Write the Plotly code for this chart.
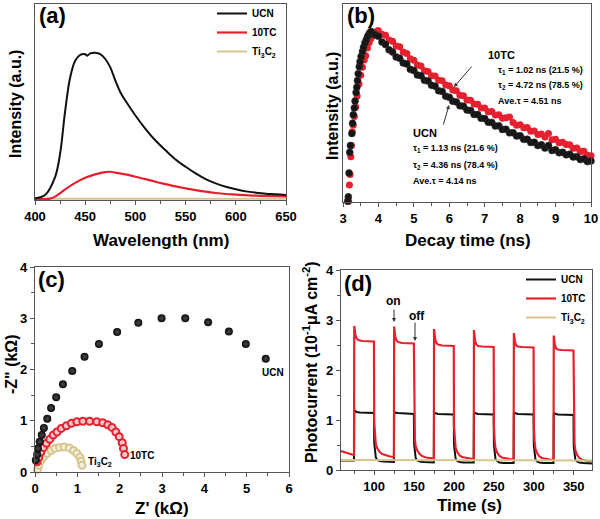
import plotly.graph_objects as go

# ---------------- DATA ----------------
# (a) steady-state PL spectra
wl_ucn = [400, 410, 420, 425, 430, 435, 440, 445, 450, 452, 455, 460, 465, 470, 475, 480, 485, 490,
          500, 510, 520, 530, 540, 550, 560, 570, 580, 590, 600, 610, 620, 630, 640, 650]
pl_ucn = [0.005, 0.027, 0.15, 0.31, 0.60, 0.83, 0.945, 0.986, 0.99, 0.98, 0.995, 1.0, 0.99, 0.957, 0.90,
          0.81, 0.73, 0.673, 0.571, 0.48, 0.40, 0.333, 0.27, 0.22, 0.175, 0.136, 0.107, 0.084, 0.066,
          0.052, 0.043, 0.036, 0.032, 0.027]
wl_10tc = [400, 410, 415, 420, 425, 430, 440, 450, 460, 470, 475, 480, 490, 500, 510, 520, 530, 540,
           550, 560, 570, 580, 590, 600, 620, 650]
pl_10tc = [0.0, 0.0, 0.002, 0.016, 0.04, 0.066, 0.11, 0.145, 0.168, 0.184, 0.186, 0.18, 0.168, 0.152,
           0.136, 0.118, 0.102, 0.086, 0.073, 0.061, 0.05, 0.041, 0.034, 0.03, 0.023, 0.018]
wl_ti = [400, 500, 650]
pl_ti = [0.002, 0.002, 0.002]

# (b) TRPL decay
t_ucn = [3.13, 3.15, 3.17, 3.19, 3.21, 3.25, 3.27, 3.29, 3.32, 3.34, 3.37, 3.39, 3.41, 3.43, 3.46, 3.48,
         3.51, 3.55, 3.58, 3.62, 3.66, 3.70, 3.74, 3.78,
         3.8, 3.9, 4.0, 4.1, 4.2, 4.3, 4.4, 4.5, 4.6, 4.7, 4.8, 4.9, 5.0, 5.1, 5.2, 5.3, 5.4, 5.5, 5.6,
         5.7, 5.8, 5.9, 6.0, 6.1, 6.2, 6.3, 6.4, 6.5, 6.6, 6.7, 6.8, 6.9, 7.0, 7.1, 7.2, 7.3, 7.4, 7.5,
         7.6, 7.7, 7.8, 7.9, 8.0, 8.1, 8.2, 8.3, 8.4, 8.5, 8.6, 8.7, 8.8, 8.9, 9.0, 9.1, 9.2, 9.3, 9.4,
         9.5, 9.6, 9.7, 9.8, 9.9, 10.0]
i_ucn = [0.005, 0.03, 0.17, 0.29, 0.33, 0.40, 0.46, 0.51, 0.55, 0.59, 0.64, 0.67, 0.71, 0.75, 0.79, 0.82,
         0.85, 0.88, 0.905, 0.93, 0.95, 0.97, 0.985, 0.995,
         0.995, 0.978, 0.968, 0.935, 0.92, 0.889, 0.876, 0.848, 0.84, 0.812, 0.806, 0.775, 0.768, 0.742,
         0.738, 0.711, 0.707, 0.682, 0.677, 0.65, 0.646, 0.618, 0.612, 0.589, 0.585, 0.562, 0.56, 0.537,
         0.535, 0.512, 0.511, 0.489, 0.488, 0.466, 0.465, 0.444, 0.445, 0.424, 0.425, 0.404, 0.405, 0.386,
         0.387, 0.366, 0.367, 0.348, 0.349, 0.33, 0.334, 0.315, 0.33, 0.301, 0.305, 0.288, 0.291, 0.276,
         0.279, 0.263, 0.265, 0.248, 0.252, 0.236, 0.24]
t_10tc = [3.16, 3.18, 3.2, 3.22, 3.24, 3.26, 3.29, 3.32, 3.36, 3.4, 3.45, 3.5, 3.55, 3.6, 3.64, 3.69, 3.74,
          3.79, 3.84, 3.89, 3.94, 3.98,
          4.0, 4.1, 4.2, 4.3, 4.4, 4.5, 4.6, 4.7, 4.8, 4.9, 5.0, 5.1, 5.2, 5.3, 5.4, 5.5, 5.6, 5.7, 5.8,
          5.9, 6.0, 6.1, 6.2, 6.3, 6.4, 6.5, 6.6, 6.7, 6.8, 6.9, 7.0, 7.1, 7.2, 7.3, 7.4, 7.5, 7.6, 7.7,
          7.8, 7.9, 8.0, 8.1, 8.2, 8.3, 8.4, 8.5, 8.6, 8.7, 8.8, 8.9, 9.0, 9.1, 9.2, 9.3, 9.4, 9.5, 9.6,
          9.7, 9.8, 9.9, 10.0]
i_10tc = [0.005, 0.1, 0.16, 0.265, 0.33, 0.41, 0.45, 0.5, 0.555, 0.62, 0.69, 0.74, 0.787, 0.83, 0.855,
          0.9, 0.932, 0.955, 0.971, 0.985, 0.993, 1.0,
          1.0, 0.98, 0.975, 0.947, 0.94, 0.912, 0.907, 0.877, 0.868, 0.837, 0.828, 0.8, 0.794, 0.767,
          0.763, 0.738, 0.736, 0.712, 0.709, 0.684, 0.68, 0.654, 0.65, 0.624, 0.621, 0.596, 0.595, 0.572,
          0.571, 0.549, 0.549, 0.528, 0.529, 0.509, 0.51, 0.49, 0.492, 0.497, 0.465, 0.449, 0.452, 0.434,
          0.436, 0.414, 0.415, 0.394, 0.397, 0.38, 0.40, 0.364, 0.366, 0.346, 0.349, 0.336, 0.334, 0.314,
          0.316, 0.295, 0.297, 0.273, 0.27]

# (c) Nyquist plots (kOhm)
zr_ucn = [0.02, 0.05, 0.07, 0.11, 0.16, 0.21, 0.29, 0.38, 0.50, 0.66, 0.88, 1.17, 1.51, 1.94, 2.44,
          2.99, 3.55, 4.09, 4.58, 4.98, 5.45]
zi_ucn = [0.23, 0.34, 0.46, 0.59, 0.72, 0.86, 1.04, 1.25, 1.46, 1.71, 1.97, 2.25, 2.50, 2.73, 2.91,
          3.00, 3.00, 2.92, 2.74, 2.50, 2.21]
zr_10tc = [0.05, 0.09, 0.14, 0.20, 0.27, 0.35, 0.43, 0.52, 0.62, 0.74, 0.86, 0.99, 1.13, 1.29, 1.46,
           1.60, 1.72, 1.82, 1.91, 1.99, 2.06, 2.09, 2.12]
zi_10tc = [0.20, 0.29, 0.39, 0.48, 0.56, 0.64, 0.72, 0.78, 0.85, 0.90, 0.95, 0.98, 0.99, 0.99, 0.98,
           0.96, 0.92, 0.87, 0.78, 0.69, 0.57, 0.46, 0.34]
zr_ti = [0.06, 0.09, 0.14, 0.20, 0.28, 0.38, 0.47, 0.58, 0.69, 0.81, 0.91, 0.99, 1.06, 1.09, 1.11]
zi_ti = [0.05, 0.13, 0.22, 0.29, 0.36, 0.42, 0.46, 0.48, 0.49, 0.47, 0.42, 0.36, 0.29, 0.21, 0.13]

# (d) transient photocurrent
tp_10tc = [58, 62, 66, 70, 74.7,
           75, 75.5, 76.5, 78, 80, 85, 99.7, 100, 101, 102, 104, 107, 110, 115, 120, 124.7,
           125, 125.5, 126.5, 128, 130, 135, 149.7, 150, 151, 152, 154, 157, 160, 165, 170, 174.7,
           175, 175.5, 176.5, 178, 180, 185, 199.7, 200, 201, 202, 204, 207, 210, 215, 220, 224.7,
           225, 225.5, 226.5, 228, 230, 235, 249.7, 250, 251, 252, 254, 257, 260, 265, 270, 274.7,
           275, 275.5, 276.5, 278, 280, 285, 299.7, 300, 301, 302, 304, 307, 310, 315, 320, 324.7,
           325, 325.5, 326.5, 328, 330, 335, 349.7, 350, 351, 352, 354, 357, 360, 365, 373]
ip_10tc = [0.38, 0.36, 0.34, 0.32, 0.30,
           2.88, 2.80, 2.70, 2.63, 2.60, 2.58, 2.57, 0.95, 0.64, 0.52, 0.43, 0.36, 0.32, 0.29, 0.27, 0.26,
           2.87, 2.78, 2.66, 2.59, 2.56, 2.54, 2.53, 0.90, 0.60, 0.48, 0.39, 0.32, 0.28, 0.25, 0.24, 0.23,
           2.82, 2.73, 2.61, 2.54, 2.51, 2.49, 2.48, 0.88, 0.57, 0.45, 0.36, 0.29, 0.26, 0.24, 0.23, 0.22,
           2.80, 2.71, 2.58, 2.51, 2.48, 2.47, 2.46, 0.87, 0.56, 0.44, 0.35, 0.28, 0.25, 0.23, 0.22, 0.21,
           2.74, 2.66, 2.55, 2.49, 2.47, 2.46, 2.45, 0.86, 0.55, 0.43, 0.34, 0.27, 0.24, 0.22, 0.21, 0.20,
           2.69, 2.61, 2.49, 2.43, 2.41, 2.40, 2.39, 0.85, 0.52, 0.40, 0.31, 0.24, 0.21, 0.19, 0.17]
tp_ucn = [58, 74.7,
          75, 76, 78, 82, 90, 99.7, 100, 101, 102, 104, 107, 112, 124.7,
          125, 126, 130, 140, 149.7, 150, 151, 152, 154, 157, 162, 174.7,
          175, 176, 180, 190, 199.7, 200, 201, 202, 204, 207, 212, 224.7,
          225, 226, 230, 240, 249.7, 250, 251, 252, 254, 257, 262, 274.7,
          275, 276, 280, 290, 299.7, 300, 301, 302, 304, 307, 312, 324.7,
          325, 326, 330, 340, 349.7, 350, 351, 352, 354, 357, 362, 373]
ip_ucn = [0.19, 0.19,
          1.20, 1.18, 1.16, 1.15, 1.15, 1.14, 0.55, 0.33, 0.25, 0.20, 0.18, 0.17, 0.16,
          1.16, 1.15, 1.14, 1.13, 1.12, 0.52, 0.31, 0.24, 0.19, 0.17, 0.16, 0.15,
          1.15, 1.14, 1.12, 1.11, 1.11, 0.50, 0.30, 0.23, 0.18, 0.16, 0.15, 0.15,
          1.15, 1.14, 1.12, 1.11, 1.11, 0.50, 0.30, 0.22, 0.18, 0.15, 0.14, 0.14,
          1.15, 1.14, 1.12, 1.11, 1.11, 0.49, 0.29, 0.22, 0.17, 0.15, 0.14, 0.14,
          1.14, 1.13, 1.11, 1.11, 1.10, 0.48, 0.28, 0.21, 0.17, 0.15, 0.14, 0.13]
tp_ti = [58, 100, 150, 200, 250, 300, 373]
ip_ti = [0.20, 0.20, 0.20, 0.20, 0.20, 0.19, 0.19]

names = ["UCN", "10TC", "Ti<sub>3</sub>C<sub>2</sub>"]

# ---------------- STYLE ----------------
BLACK = "#111111"
RED = "#e6202e"
TAN = "#d6c68e"
FONT = "Liberation Sans"
W, H = 600, 519


def px(x):
    return x / W


def py(y):
    return 1 - y / H


fig = go.Figure()

# (a)
fig.add_trace(go.Scatter(x=wl_ti, y=pl_ti, mode="lines", line=dict(color=TAN, width=2), name=names[2],
                         xaxis="x", yaxis="y", legend="legend", legendrank=3))
fig.add_trace(go.Scatter(x=wl_10tc, y=pl_10tc, mode="lines", line=dict(color=RED, width=2.2, shape="spline"),
                         name=names[1], xaxis="x", yaxis="y", legend="legend", legendrank=2))
fig.add_trace(go.Scatter(x=wl_ucn, y=pl_ucn, mode="lines", line=dict(color=BLACK, width=2, shape="spline"),
                         name=names[0], xaxis="x", yaxis="y", legend="legend", legendrank=1))

# (b)
fig.add_trace(go.Scatter(x=t_10tc, y=i_10tc, mode="markers", marker=dict(color=RED, size=7),
                         showlegend=False, xaxis="x2", yaxis="y2", cliponaxis=False))
fig.add_trace(go.Scatter(x=t_ucn, y=i_ucn, mode="markers", marker=dict(color="#151515", size=7,
                         line=dict(color="#333", width=0.5)),
                         showlegend=False, xaxis="x2", yaxis="y2", cliponaxis=False))

# (c)
fig.add_trace(go.Scatter(x=zr_ti, y=zi_ti, mode="markers",
                         marker=dict(color="#f4eedb", size=7, line=dict(color=TAN, width=2)),
                         showlegend=False, xaxis="x3", yaxis="y3", cliponaxis=False))
fig.add_trace(go.Scatter(x=zr_10tc, y=zi_10tc, mode="markers",
                         marker=dict(color="#f8c8cc", size=7, line=dict(color=RED, width=2)),
                         showlegend=False, xaxis="x3", yaxis="y3", cliponaxis=False))
fig.add_trace(go.Scatter(x=zr_ucn, y=zi_ucn, mode="markers",
                         marker=dict(color="#0a0a0a", size=8, gradient=dict(type="radial", color="#4a4a4a")),
                         showlegend=False, xaxis="x3", yaxis="y3", cliponaxis=False))

# (d)
fig.add_trace(go.Scatter(x=tp_ucn, y=ip_ucn, mode="lines", line=dict(color=BLACK, width=2), name=names[0],
                         xaxis="x4", yaxis="y4", legend="legend2", legendrank=1))
fig.add_trace(go.Scatter(x=tp_10tc, y=ip_10tc, mode="lines", line=dict(color=RED, width=2.2), name=names[1],
                         xaxis="x4", yaxis="y4", legend="legend2", legendrank=2))
fig.add_trace(go.Scatter(x=tp_ti, y=ip_ti, mode="lines", line=dict(color=TAN, width=2), name=names[2],
                         xaxis="x4", yaxis="y4", legend="legend2", legendrank=3))

LC = "#555555"
tickfont = dict(family=FONT, size=13, color="black", weight="bold")


def ax(domain, rng, dtick=None, minor=None, labels=True, ticks=True, tick0=None):
    d = dict(domain=domain, range=rng, showline=True, linecolor=LC, linewidth=1.2, mirror=True,
             showgrid=False, zeroline=False, tickfont=tickfont, fixedrange=True, automargin=False)
    if ticks:
        d.update(ticks="outside", ticklen=4, tickwidth=1.2, tickcolor=LC, tickmode="linear", dtick=dtick)
        if tick0 is not None:
            d["tick0"] = tick0
        if minor:
            d["minor"] = dict(ticks="outside", ticklen=2.5, tickwidth=1, tickcolor=LC, dtick=minor,
                              tick0=tick0 if tick0 is not None else 0)
    else:
        d.update(ticks="", showticklabels=False)
    if not labels:
        d["showticklabels"] = False
    return d


fig.update_layout(
    width=W, height=H, margin=dict(l=0, r=0, t=0, b=0, pad=0, autoexpand=False),
    paper_bgcolor="white", plot_bgcolor="white",
    font=dict(family=FONT, color="black"),
    xaxis=ax([px(35), px(286)], [400, 650], 50, 25, tick0=400),
    yaxis=dict(ax([py(200), py(4)], [-0.007, 1.333], ticks=False), anchor="x"),
    xaxis2=dict(ax([px(343), px(591)], [3, 10], 1, 0.5, tick0=0), anchor="y2"),
    yaxis2=dict(ax([py(202), py(4)], [0, 1.157], ticks=False), anchor="x2"),
    xaxis3=dict(ax([px(35), px(289)], [0, 6], 1, 0.5, tick0=0), anchor="y3"),
    yaxis3=dict(ax([py(472), py(267)], [0, 4], 1, 0.5, tick0=0), anchor="x3"),
    xaxis4=dict(ax([px(341), px(592)], [58.4, 372.9], 50, 25, tick0=0), anchor="y4"),
    yaxis4=dict(ax([py(470), py(270)], [0, 4], 1, 0.5, tick0=0), anchor="x4"),
    legend=dict(x=px(212), y=py(-1), xanchor="left", yanchor="top", bgcolor="rgba(0,0,0,0)",
                font=dict(family=FONT, size=10, color="black", weight="bold"), tracegroupgap=0),
    legend2=dict(x=px(521), y=py(265), xanchor="left", yanchor="top", bgcolor="rgba(0,0,0,0)",
                 font=dict(family=FONT, size=10, color="black", weight="bold"), tracegroupgap=0),
)

ann = []


def text(x, y, s, size, angle=0, xanchor="center", xref="paper", yref="paper"):
    ann.append(dict(x=x, y=y, xref=xref, yref=yref, text=s, showarrow=False, textangle=angle,
                    xanchor=xanchor, yanchor="middle",
                    font=dict(family=FONT, size=size, color="black", weight="bold")))


# panel labels
text(px(37), py(16), "(a)", 22, xanchor="left")
text(px(345), py(16), "(b)", 22, xanchor="left")
text(px(36), py(279), "(c)", 22, xanchor="left")
text(px(342), py(283), "(d)", 22, xanchor="left")

# axis titles
text(px(161), py(240), "Wavelength (nm)", 17)
text(px(15), py(104), "Intensity (a.u.)", 16, angle=-90)
text(px(468), py(240), "Decay time (ns)", 17)
text(px(333), py(106), "Intensity (a.u.)", 16, angle=-90)
text(px(162), py(508), "Z' (kΩ)", 17)
text(px(11), py(364), "-Z\" (kΩ)", 16, angle=-90)
text(px(469), py(505), "Time (s)", 17)
text(px(310), py(362), "Photocurrent (10<sup>-1</sup>μA cm<sup>-2</sup>)", 16, angle=-90)

# (b) annotations
text(px(486), py(55), "10TC", 11, xanchor="left")
text(px(496), py(70), "τ<sub>1</sub> = 1.02 ns (21.5 %)", 9, xanchor="left")
text(px(496), py(86), "τ<sub>2</sub> = 4.72 ns (78.5 %)", 9, xanchor="left")
text(px(496), py(101), "Ave.τ = 4.51 ns", 9, xanchor="left")
text(px(411), py(133), "UCN", 11, xanchor="left")
text(px(411), py(149), "τ<sub>1</sub> = 1.13 ns (21.6 %)", 9, xanchor="left")
text(px(411), py(165), "τ<sub>2</sub> = 4.36 ns (78.4 %)", 9, xanchor="left")
text(px(411), py(181), "Ave.τ = 4.14 ns", 9, xanchor="left")

# (c) labels
text(px(273), py(372), "UCN", 10)
text(px(142), py(455), "10TC", 10)
text(px(100), py(462), "Ti<sub>3</sub>C<sub>2</sub>", 10)

# (d) on/off
text(px(393), py(301), "on", 12)
text(px(417), py(316), "off", 12)


def arrow(x_tip, y_tip, x_tail, y_tail):
    ann.append(dict(x=px(x_tip), y=py(y_tip), xref="paper", yref="paper", text="", showarrow=True,
                    ax=x_tail - x_tip, ay=y_tail - y_tip, arrowhead=2, arrowsize=0.8, arrowwidth=1,
                    arrowcolor="#333"))


arrow(454, 87, 473, 65)
arrow(449, 105, 443, 126)
arrow(394, 322, 394, 308)
arrow(415, 341, 415, 321)

fig.update_layout(annotations=ann)
fig.write_html("out.html", config={"displayModeBar": False},
               post_script="document.body.style.margin='0';document.body.style.padding='0';"
                           "document.body.style.overflow='hidden';")
